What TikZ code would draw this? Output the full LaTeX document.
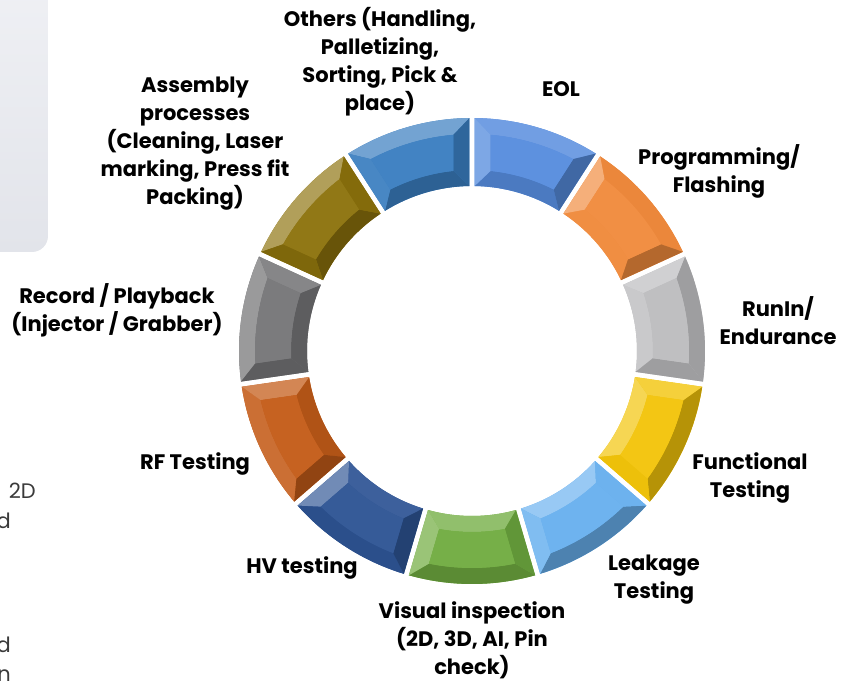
\documentclass[tikz,border=0pt]{standalone}
\usepackage{fontspec}
\newfontfamily\lab{Poppins}
\definecolor{cEOL}{RGB}{86,140,222}
\definecolor{cProg}{RGB}{240,138,60}
\definecolor{cRun}{RGB}{188,188,190}
\definecolor{cFunc}{RGB}{242,196,10}
\definecolor{cLeak}{RGB}{104,176,238}
\definecolor{cVis}{RGB}{112,172,64}
\definecolor{cHV}{RGB}{46,84,148}
\definecolor{cRF}{RGB}{196,92,24}
\definecolor{cRec}{RGB}{118,118,120}
\definecolor{cAsm}{RGB}{140,114,12}
\definecolor{cOth}{RGB}{58,126,192}
\definecolor{fragtext}{RGB}{58,58,58}
\definecolor{boxtop}{RGB}{240,241,245}
\definecolor{boxbot}{RGB}{226,228,234}
\def\Ro{233}
\def\Ri{165}
\def\bw{16}
\def\gp{2.6}
\newcommand{\facetcolor}[2]{%
  \pgfmathsetmacro\myT{cos(#1-135)}%
  \pgfmathtruncatemacro\myPos{\myT>0}%
  \ifnum\myPos=1
    \pgfmathtruncatemacro\myP{100-32*\myT}\colorlet{fc}{#2!\myP!white}%
  \else
    \pgfmathtruncatemacro\myP{100+26*\myT}\colorlet{fc}{#2!\myP!black}%
  \fi}
\newcommand{\segment}[2]{%
  \pgfmathsetmacro\aA{90-#1*360/11}%
  \pgfmathsetmacro\aB{\aA-360/11}%
  \pgfmathsetmacro\aM{(\aA+\aB)/2}%
  \pgfmathsetmacro\oA{\aA-deg(\gp/\Ro)}%
  \pgfmathsetmacro\oB{\aB+deg(\gp/\Ro)}%
  \pgfmathsetmacro\iA{\aA-deg(\gp/\Ri)}%
  \pgfmathsetmacro\iB{\aB+deg(\gp/\Ri)}%
  \pgfmathsetmacro\Rf{\Ro-\bw}%
  \pgfmathsetmacro\Rh{\Ri+\bw}%
  \pgfmathsetmacro\fA{\aA-deg((\gp+\bw)/\Rf)}%
  \pgfmathsetmacro\fB{\aB+deg((\gp+\bw)/\Rf)}%
  \pgfmathsetmacro\hA{\aA-deg((\gp+\bw)/\Rh)}%
  \pgfmathsetmacro\hB{\aB+deg((\gp+\bw)/\Rh)}%
  \fill[#2] (\oA:\Ro pt) arc[start angle=\oA, end angle=\oB, radius=\Ro pt]
     -- (\iB:\Ri pt) arc[start angle=\iB, end angle=\iA, radius=\Ri pt] -- cycle;
  \facetcolor{\aM}{#2}%
  \fill[fc] (\oA:\Ro pt) arc[start angle=\oA, end angle=\oB, radius=\Ro pt]
     -- (\fB:\Rf pt) arc[start angle=\fB, end angle=\fA, radius=\Rf pt] -- cycle;
  \facetcolor{\aM+180}{#2}%
  \fill[fc] (\iA:\Ri pt) arc[start angle=\iA, end angle=\iB, radius=\Ri pt]
     -- (\hB:\Rh pt) arc[start angle=\hB, end angle=\hA, radius=\Rh pt] -- cycle;
  \facetcolor{\aA+90}{#2}%
  \fill[fc] (\oA:\Ro pt) -- (\fA:\Rf pt) -- (\hA:\Rh pt) -- (\iA:\Ri pt) -- cycle;
  \facetcolor{\aB-90}{#2}%
  \fill[fc] (\oB:\Ro pt) -- (\fB:\Rf pt) -- (\hB:\Rh pt) -- (\iB:\Ri pt) -- cycle;
  \fill[#2!96!white] (\fA:\Rf pt) arc[start angle=\fA, end angle=\fB, radius=\Rf pt]
     -- (\hB:\Rh pt) arc[start angle=\hB, end angle=\hA, radius=\Rh pt] -- cycle;
}
\tikzset{
  lbl/.style={font=\lab\bfseries\fontsize{21}{28}\selectfont, align=center, text=black, inner sep=0pt},
  frag/.style={font=\lab\fontsize{21}{28}\selectfont, text=fragtext, inner sep=0pt, anchor=base east}
}
\begin{document}
\begin{tikzpicture}[x=1pt,y=1pt]
\useasboundingbox (0,0) rectangle (853,681);
\clip (0,0) rectangle (853,681);
% background panel at top left
\shade[top color=boxtop, bottom color=boxbot, rounded corners=16pt] (-30,429) rectangle (48,720);
% partial text at left edge
\node[frag] (f1) at (36,183) {2D};
\node[frag] (f2) at (11,153) {d};
\node[frag] (f3) at (11,29) {d};
\node[frag] (f4) at (11,0) {n};
% ring
\begin{scope}[shift={(472,330)}]
\segment{0}{cEOL}
\segment{1}{cProg}
\segment{2}{cRun}
\segment{3}{cFunc}
\segment{4}{cLeak}
\segment{5}{cVis}
\segment{6}{cHV}
\segment{7}{cRF}
\segment{8}{cRec}
\segment{9}{cAsm}
\segment{10}{cOth}
\end{scope}
% labels
\node[lbl] (others) at (380,619) {Others (Handling,\\Palletizing,\\Sorting, Pick \&\\place)};
\node[lbl] (eol) at (561,592) {EOL};
\node[lbl] (prog) at (719,510) {Programming/\\Flashing};
\node[lbl] (runin) at (778,360) {RunIn/\\Endurance};
\node[lbl] (func) at (750,203) {Functional\\Testing};
\node[lbl] (leak) at (654,101) {Leakage\\Testing};
\node[lbl] (vis) at (472,41) {Visual inspection\\(2D, 3D, AI, Pin\\check)};
\node[lbl] (hv) at (302,113) {HV testing};
\node[lbl] (rf) at (195,217) {RF Testing};
\node[lbl] (rec) at (117,371) {Record / Playback\\(Injector / Grabber)};
\node[lbl] (asm) at (195,537) {Assembly\\processes\\(Cleaning, Laser\\marking, Press fit\\Packing)};
\end{tikzpicture}
\end{document}
